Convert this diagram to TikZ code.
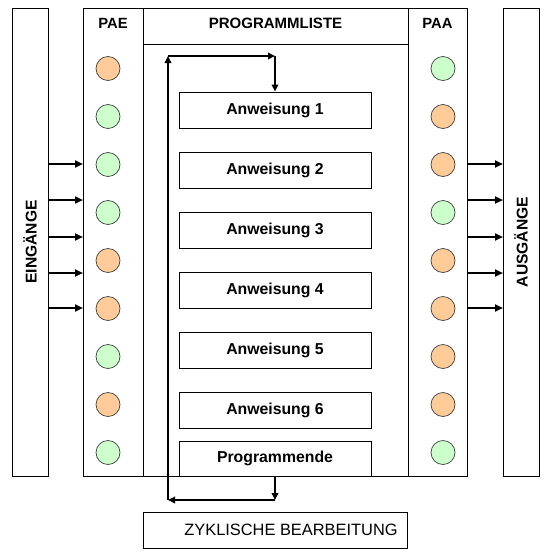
\documentclass[tikz,border=0pt]{standalone}
\usepackage{fontspec}
\setmainfont{Liberation Sans}
\usetikzlibrary{arrows.meta}
\definecolor{orng}{HTML}{FFCC99}
\definecolor{grn}{HTML}{CCFFCC}
\definecolor{ring}{HTML}{404040}
\tikzset{
  x=1pt, y=-1pt,
  thin line/.style={draw=black, line width=0.9pt},
  colbox/.style={thin line, rectangle, inner sep=0pt, anchor=north west},
  stepbox/.style={thin line, rectangle, inner sep=0pt, minimum width=192pt, minimum height=36pt,
     font=\fontsize{15.8}{18}\selectfont\bfseries},
  hdr/.style={font=\fontsize{14.8}{17}\selectfont\bfseries, inner sep=0pt},
  side/.style={font=\fontsize{15.6}{18}\selectfont\bfseries, inner sep=0pt, rotate=90},
  lamp/.style={circle, draw=ring, line width=0.7pt, minimum size=24pt, inner sep=0pt},
  og/.style={lamp, fill=orng},
  gr/.style={lamp, fill=grn},
  sig/.style={line width=2.2pt, -{Triangle[length=8pt,width=7pt]}},
  cyc/.style={line width=2.2pt, -{Triangle[length=7pt,width=6.5pt]}},
}
\begin{document}
\begin{tikzpicture}
\useasboundingbox (0,0) rectangle (551,560);
% outer columns
\node[colbox, minimum width=36pt, minimum height=468pt] (ein) at (12,8) {};
\node[colbox, minimum width=36pt, minimum height=468pt] (aus) at (503,8) {};
\node[colbox, minimum width=60pt, minimum height=468pt] (pae) at (83,8) {};
\node[colbox, minimum width=59pt, minimum height=468pt] (paa) at (408,8) {};
\node[colbox, minimum width=265pt, minimum height=36pt] (plh) at (143,8) {};
\node[colbox, minimum width=265pt, minimum height=432pt] (pl) at (143,44) {};
% labels
\node[side] (eint) at (30,242) {EINGÄNGE};
\node[side] (aust) at (521,242) {AUSGÄNGE};
\node[hdr] (paet) at (113,23) {PAE};
\node[hdr] (paat) at (437.5,23) {PAA};
\node[hdr, font=\fontsize{15}{17}\selectfont\bfseries] (plt) at (275.5,23) {PROGRAMMLISTE};
% PAE lamps
\foreach \c [count=\i from 0] in {og,gr,gr,gr,og,og,gr,og,gr}
  \node[\c] (e\i) at (108,68.5+48*\i) {};
% PAA lamps
\foreach \c [count=\i from 0] in {gr,og,og,gr,og,og,og,og,gr}
  \node[\c] (o\i) at (443,68.5+48*\i) {};
% instructions
\node[stepbox] (a1) at (275,110) {Anweisung 1};
\node[stepbox] (a2) at (275,170) {Anweisung 2};
\node[stepbox] (a3) at (275,230) {Anweisung 3};
\node[stepbox] (a4) at (275,290) {Anweisung 4};
\node[stepbox] (a5) at (275,350) {Anweisung 5};
\node[stepbox] (a6) at (275,410) {Anweisung 6};
\node[stepbox, minimum height=35pt] (pe) at (275,458.5) {Programmende};
% cycle box
\node[thin line, rectangle, inner sep=0pt, minimum width=264pt, minimum height=36pt,
      font=\fontsize{16.4}{19}\selectfont] (zyk) at (275,530) {\hspace*{32pt}ZYKLISCHE BEARBEITUNG};
% input / output arrows
\foreach \yy in {164,200,237,273,308} {
  \draw[sig] (ein.east |- 0,\yy) -- (pae.west |- 0,\yy);
  \draw[sig] (paa.east |- 0,\yy) -- (aus.west |- 0,\yy);
}
% cycle loop
\coordinate (lt) at (168,56);
\coordinate (lb) at (168,500);
\coordinate (rt) at (a1.north |- lt);
\coordinate (rb) at (pe.south |- lb);
\draw[cyc] (pe.south) -- (rb);
\draw[cyc] (rb) -- (lb);
\draw[cyc] (lb) -- (lt);
\draw[cyc] (lt) -- (rt);
\draw[cyc] (rt) -- (a1.north);
\end{tikzpicture}
\end{document}
